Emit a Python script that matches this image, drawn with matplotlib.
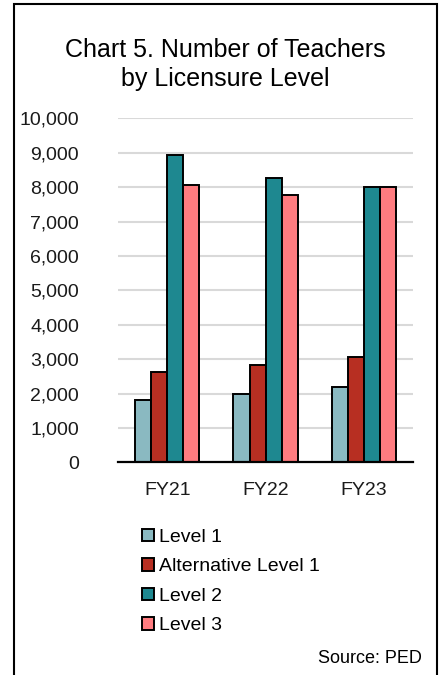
import numpy as np
import matplotlib.pyplot as plt
from matplotlib.patches import Rectangle

years = ['FY21', 'FY22', 'FY23']
level1 = [1810, 1985, 2200]
alt_level1 = [2635, 2820, 3060]
level2 = [8940, 8275, 8000]
level3 = [8060, 7780, 8010]
labels = ['Level 1', 'Alternative Level 1', 'Level 2', 'Level 3']
colors = ['#8AB9C1', '#B72F22', '#1E8890', '#FF7C80']

plt.rcParams['font.family'] = ['Liberation Sans', 'DejaVu Sans']

fig = plt.figure(figsize=(4.43, 6.75), dpi=100)
ax = fig.add_axes([0.2664, 0.3151, 0.666, 0.5096])

x = np.arange(len(years))
w = 0.163
series = [level1, alt_level1, level2, level3]
for i, vals in enumerate(series):
    ax.bar(x + (i - 1.5) * w, vals, w, color=colors[i], edgecolor='black',
           linewidth=1.4, label=labels[i], zorder=3)

ax.set_xlim(-0.5, 2.5)
ax.set_ylim(0, 10000)
ax.set_yticks(np.arange(0, 10001, 1000))
ax.set_yticklabels([f'{v:,}' for v in range(0, 10001, 1000)])
ax.set_xticks(x)
ax.set_xticklabels(years)
ax.tick_params(length=0, labelsize=14, colors='#1a1a1a')
ax.tick_params(axis='y', pad=28)
ax.tick_params(axis='x', pad=14)
ax.grid(axis='y', color='#D9D9D9', linewidth=1.5, zorder=0)
for s in ['left', 'right', 'top']:
    ax.spines[s].set_visible(False)
ax.spines['bottom'].set_linewidth(1.6)
ax.spines['bottom'].set_zorder(4)

ax.legend(loc='upper left', bbox_to_anchor=(0.055, -0.171), frameon=False,
          fontsize=14, handlelength=0.6, handleheight=0.6, handletextpad=0.25,
          labelspacing=0.64, borderaxespad=0)

fig.text(0.508, 1 - 57 / 675, 'Chart 5. Number of Teachers', ha='center',
         va='baseline', fontsize=18)
fig.text(0.508, 1 - 86 / 675, 'by Licensure Level', ha='center',
         va='baseline', fontsize=18)
fig.text(0.953, 1 - 663 / 675, 'Source: PED', ha='right', va='baseline', fontsize=13)

fig.patches.append(Rectangle((14 / 443, -0.05), 423 / 443, 1.05 - 3.5 / 675,
                             transform=fig.transFigure, fill=False,
                             edgecolor='black', linewidth=1.5))

fig.savefig('out.png', dpi=100)
